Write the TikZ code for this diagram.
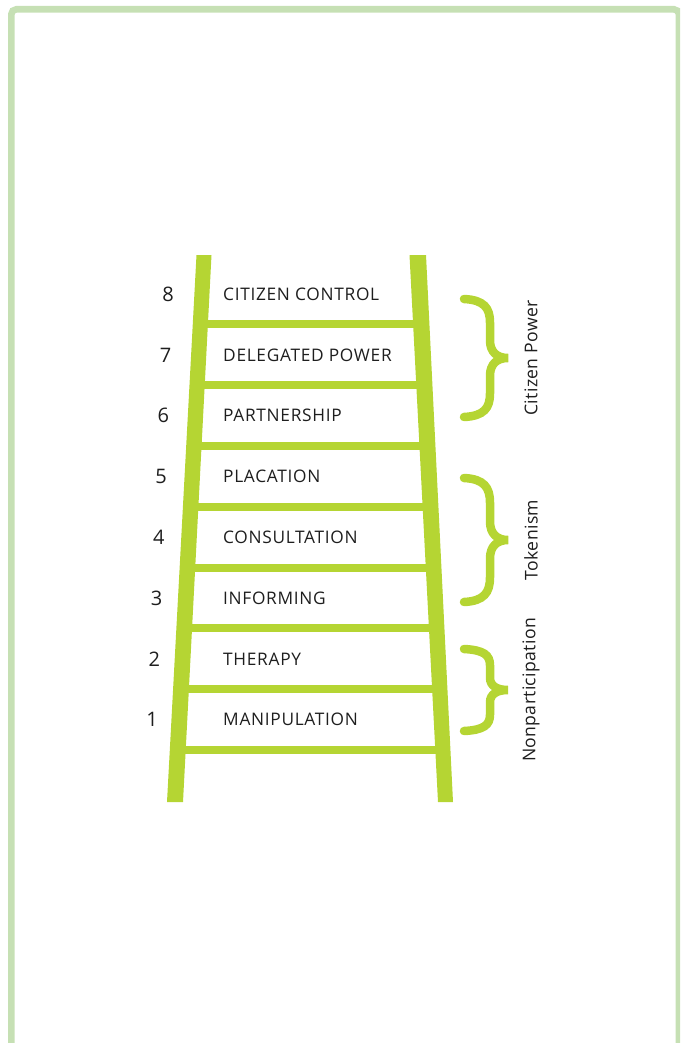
\documentclass[tikz,border=0pt]{standalone}
\usepackage{fontspec}
\setmainfont{Open Sans}
\usetikzlibrary{calc}
\definecolor{lime}{RGB}{181,213,51}
\definecolor{framegreen}{RGB}{198,224,180}
\definecolor{ink}{RGB}{30,30,30}

\begin{document}
\begin{tikzpicture}[x=1pt,y=-1pt,
    rung/.style={draw=lime,line width=8pt},
    curly/.style={draw=lime,line width=8.5pt,line cap=round},
    rungtext/.style={anchor=west,text=ink,inner sep=0pt,font=\fontsize{17.3}{19}\selectfont\addfontfeature{LetterSpace=4}},
    rungnum/.style={text=ink,inner sep=0pt,font=\fontsize{20}{22}\selectfont},
    sidetext/.style={rotate=90,text=ink,inner sep=0pt,font=\fontsize{17.6}{19}\selectfont\addfontfeature{LetterSpace=2}}]
      \useasboundingbox (0,0) rectangle (680,1043);
      \clip (0,0) rectangle (680,1043);
      \draw[framegreen,line width=6.6pt,rounded corners=5pt] (11.3,1100) -- (11.3,9.3) -- (679,9.3) -- (679,1100);
      \coordinate (lt) at (204,255);
      \coordinate (lb) at (175,802);
      \coordinate (rt) at (417.5,255);
      \coordinate (rb) at (445.5,802);
      \foreach \k in {0,...,7} {
        \pgfmathsetmacro\t{(324.5+60.8*\k-255)/547}
        \draw[rung] ($(lt)!\t!(lb)$) coordinate (l\k) -- ($(rt)!\t!(rb)$) coordinate (r\k);
      }
      \fill[lime] ($(lt)+(-7.5,0)$) -- ($(lt)+(7.5,0)$) -- ($(lb)+(8,0)$) -- ($(lb)+(-8,0)$) -- cycle;
      \fill[lime] ($(rt)+(-8,0)$) -- ($(rt)+(8.5,0)$) -- ($(rb)+(7.5,0)$) -- ($(rb)+(-7.5,0)$) -- cycle;
      \foreach \lab [count=\n] in {MANIPULATION,THERAPY,INFORMING,CONSULTATION,PLACATION,PARTNERSHIP,DELEGATED POWER,CITIZEN CONTROL} {
        \pgfmathsetmacro\ty{750.1-60.8*(\n-1)-30.4}
        \pgfmathsetmacro\nx{152+(\n-1)*16/7}
        \node[rungtext] (lab\n) at (223,\ty) {\lab};
        \node[rungnum] (num\n) at (\nx,\ty) {\n};
      }
      \foreach \top/\bot/\name/\txt in {299/417/power/Citizen Power,478/602/token/Tokenism,649/731/nonpart/Nonparticipation} {
        \pgfmathsetmacro\mid{(\top+\bot)/2}
        \pgfmathsetmacro\h{(\bot-\top)/2}
        \draw[curly] (464,\top) .. controls (484,\top+1) and (490,{\top+0.15*\h}) .. (490,{\top+0.4*\h})
          -- (490,{\mid-0.3*\h}) .. controls (490,{\mid-0.1*\h}) and (497,\mid) .. (508,\mid) coordinate (\name tip)
          .. controls (497,\mid) and (490,{\mid+0.1*\h}) .. (490,{\mid+0.3*\h})
          -- (490,{\bot-0.4*\h}) .. controls (490,{\bot-0.15*\h}) and (484,\bot-1) .. (464,\bot);
        \node[sidetext] (\name) at (531,\mid) {\txt};
      }
    \end{tikzpicture}
\end{document}
